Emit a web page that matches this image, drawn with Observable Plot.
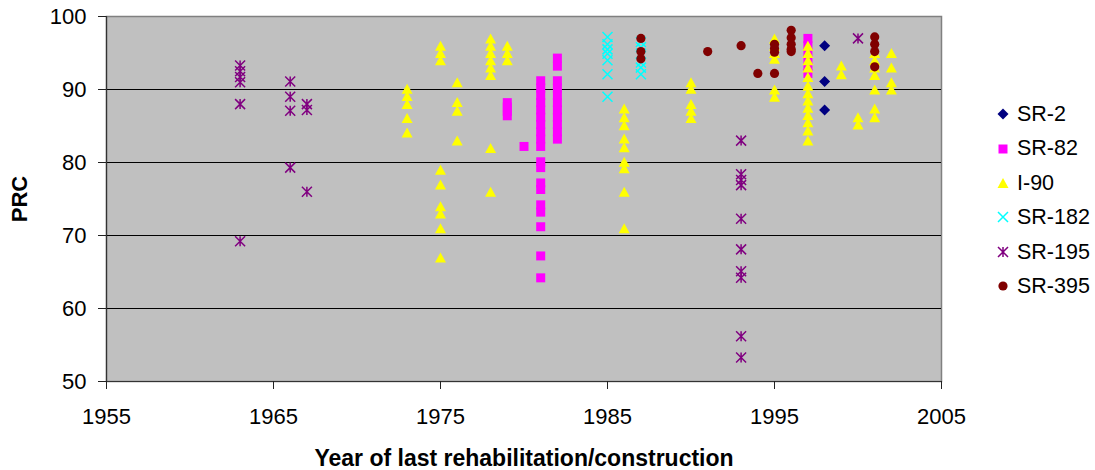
<!DOCTYPE html>
<html><head><meta charset="utf-8">
<script src="https://cdn.jsdelivr.net/npm/d3@7"></script>
<script src="https://cdn.jsdelivr.net/npm/@observablehq/plot@0.6"></script>
<style>
html,body{margin:0;padding:0;background:#fff;}
#wrap{position:relative;width:1095px;height:470px;font-family:"Liberation Sans",Arial,sans-serif;}
.item{position:absolute;display:flex;align-items:center;font-size:21.5px;white-space:nowrap;height:26px;}
.item span{margin-left:4px;}
</style></head><body><div id="wrap"></div>
<script>
// ---- data (year, PRC) ----
const seriesNames = ["SR-2", "SR-82", "I-90", "SR-182", "SR-195", "SR-395"];
const seriesColors = ["#000080", "#ff00ff", "#ffff00", "#00ffff", "#800080", "#800000"];
const xTicks = [1955, 1965, 1975, 1985, 1995, 2005];
const yTicks = [50, 60, 70, 80, 90, 100];
const gridValues = [60, 70, 80, 90];
const xTitle = "Year of last rehabilitation/construction";
const yTitle = "PRC";

const sr2 = [[1998, 96], [1998, 91.1], [1998, 87.2]];
const sr82 = [
  [1979, 88.2], [1979, 87.6], [1979, 87], [1979, 86.4],
  [1980, 82.2],
  [1981, 91.2], [1981, 90.2], [1981, 89.2], [1981, 88.2], [1981, 87.2], [1981, 86.2], [1981, 85.2],
  [1981, 84.2], [1981, 83.2], [1981, 82.2], [1981, 80.1], [1981, 79.3], [1981, 77.2], [1981, 76.3],
  [1981, 74.2], [1981, 73.2], [1981, 71.2], [1981, 67.2], [1981, 64.2],
  [1982, 94.3], [1982, 93.2], [1982, 91.2], [1982, 90.2], [1982, 89.2], [1982, 88.2], [1982, 87.2],
  [1982, 86.2], [1982, 85.2], [1982, 84.2], [1982, 83.2],
  [1997, 97], [1997, 96], [1997, 95], [1997, 94], [1997, 93], [1997, 92.2]
];
const i90 = [
  [1973, 90.1], [1973, 89.1], [1973, 88], [1973, 86.1], [1973, 84.1],
  [1975, 96], [1975, 95], [1975, 94], [1975, 79], [1975, 77], [1975, 74], [1975, 73], [1975, 71], [1975, 67],
  [1976, 91], [1976, 88.3], [1976, 87.1], [1976, 83],
  [1978, 97], [1978, 96], [1978, 95], [1978, 94], [1978, 93], [1978, 92], [1978, 82], [1978, 76],
  [1979, 96], [1979, 95], [1979, 94],
  [1986, 87.4], [1986, 86.2], [1986, 85.1], [1986, 83.3], [1986, 82.1], [1986, 80.1], [1986, 79.2], [1986, 76], [1986, 71],
  [1990, 91], [1990, 90.1], [1990, 88], [1990, 87.1], [1990, 86.1],
  [1995, 97], [1995, 96], [1995, 95], [1995, 94.2], [1995, 90], [1995, 89],
  [1997, 96], [1997, 95], [1997, 94], [1997, 93], [1997, 91.7], [1997, 90.5], [1997, 89.5], [1997, 88.5],
  [1997, 87.5], [1997, 86.5], [1997, 85.5], [1997, 84.4], [1997, 83],
  [1999, 93.3], [1999, 92.1],
  [2000, 86.2], [2000, 85.2],
  [2001, 95], [2001, 94], [2001, 93], [2001, 92], [2001, 90], [2001, 87.4], [2001, 86.2],
  [2002, 95], [2002, 93], [2002, 91], [2002, 90]
];
const sr182 = [
  [1985, 97.2], [1985, 96.2], [1985, 95.5], [1985, 94.9], [1985, 94], [1985, 92.1], [1985, 89],
  [1987, 96.5], [1987, 95.8], [1987, 94.9], [1987, 93.7], [1987, 93], [1987, 92.1]
];
const sr195 = [
  [1963, 93.3], [1963, 92.5], [1963, 91.7], [1963, 91], [1963, 88], [1963, 69.2],
  [1966, 91.1], [1966, 89], [1966, 87.1], [1966, 79.3],
  [1967, 88], [1967, 87.2], [1967, 76],
  [1993, 83], [1993, 78.4], [1993, 77.6], [1993, 76.9], [1993, 72.3], [1993, 68.1], [1993, 65.1],
  [1993, 64.2], [1993, 56.2], [1993, 53.3],
  [2000, 97]
];
const sr395 = [
  [1987, 97], [1987, 95.2], [1987, 94.2],
  [1991, 95.2], [1993, 96], [1994, 92.2],
  [1995, 96.2], [1995, 95.6], [1995, 95.1], [1995, 92.2],
  [1996, 98.1], [1996, 97.1], [1996, 96.2], [1996, 95.5], [1996, 95.2],
  [2001, 97.2], [2001, 96.2], [2001, 95.2], [2001, 93.1]
];
const seriesData = [sr2, sr82, i90, sr182, sr195, sr395];

// ---- marker shapes (Excel-like) ----
const rad = s => Math.sqrt(s / Math.PI);
const symDiamond = {draw(c, s) { const r = rad(s); c.moveTo(0, -r); c.lineTo(r, 0); c.lineTo(0, r); c.lineTo(-r, 0); c.closePath(); }};
const symSquare = {draw(c, s) { const r = rad(s); c.rect(-r, -r, 2 * r, 2 * r); }};
const symTriangle = {draw(c, s) { const r = rad(s); c.moveTo(0, -r); c.lineTo(r * 1.1, r); c.lineTo(-r * 1.1, r); c.closePath(); }};
const symTimes = {draw(c, s) { const r = rad(s); c.moveTo(-r, -r); c.lineTo(r, r); c.moveTo(-r, r); c.lineTo(r, -r); }};
const symAsterisk = {draw(c, s) { const r = rad(s); c.moveTo(-r, -r); c.lineTo(r, r); c.moveTo(-r, r); c.lineTo(r, -r); c.moveTo(0, -r); c.lineTo(0, r); }};
const symCircle = {draw(c, s) { const r = rad(s); c.moveTo(r, 0); c.arc(0, 0, r, 0, 2 * Math.PI); }};
const seriesSymbols = [symDiamond, symSquare, symTriangle, symTimes, symAsterisk, symCircle];
const seriesR = [5.5, 4.5, 5, 5, 5, 4.6];
const seriesFilled = [true, true, true, false, false, true];

const dotMarks = seriesData.map((data, i) => Plot.dot(data, {
  x: d => d[0], y: d => d[1],
  symbol: seriesSymbols[i], r: seriesR[i],
  fill: seriesFilled[i] ? seriesColors[i] : "none",
  stroke: seriesFilled[i] ? "none" : seriesColors[i],
  strokeWidth: seriesFilled[i] ? 0 : 1.5
}));

const chart = Plot.plot({
  width: 1095, height: 470,
  marginLeft: 106, marginRight: 154, marginTop: 16, marginBottom: 89,
  x: {domain: [1955, 2005]},
  y: {domain: [50, 100]},
  style: {fontFamily: "'Liberation Sans', Arial, sans-serif", fontSize: "22px", color: "black", background: "transparent", overflow: "visible"},
  marks: [
    Plot.frame({fill: "#c0c0c0", stroke: "#808080", strokeWidth: 1.5}),
    Plot.ruleY(gridValues, {stroke: "black", strokeWidth: 1}),
    Plot.ruleY([50], {stroke: "#333", strokeWidth: 1.2}),
    Plot.ruleX([1955], {stroke: "#333", strokeWidth: 1.2}),
    Plot.axisY(yTicks, {tickSize: 8, tickPadding: 12, label: null, tickFormat: d => String(d), stroke: "#222"}),
    Plot.axisX(xTicks, {tickSize: 8, tickPadding: 19, label: null, tickFormat: d => String(d), stroke: "#222"}),
    ...dotMarks,
    Plot.text([yTitle], {text: d => d, frameAnchor: "left", dx: -86.5, rotate: -90, textAnchor: "middle", lineAnchor: "middle", fontWeight: "bold", fontSize: 22}),
    Plot.text([xTitle], {text: d => d, frameAnchor: "bottom", dy: 77, textAnchor: "middle", lineAnchor: "middle", fontWeight: "bold", fontSize: 23})
  ]
});
const wrap = document.getElementById("wrap");
wrap.appendChild(chart);

// ---- legend (right side) ----
const legendY = [114, 148.5, 183, 217, 252, 286];
seriesNames.forEach((name, i) => {
  const item = document.createElement("div");
  item.className = "item";
  item.style.left = "993px";
  item.style.top = (legendY[i] - 13) + "px";
  const p = d3.path();
  seriesSymbols[i].draw(p, seriesR[i] * seriesR[i] * Math.PI);
  const svg = d3.create("svg").attr("width", 20).attr("height", 20).attr("viewBox", "-10 -10 20 20");
  svg.append("path").attr("d", p.toString())
    .attr("fill", seriesFilled[i] ? seriesColors[i] : "none")
    .attr("stroke", seriesFilled[i] ? "none" : seriesColors[i])
    .attr("stroke-width", 1.5);
  item.appendChild(svg.node());
  const span = document.createElement("span");
  span.textContent = name;
  item.appendChild(span);
  wrap.appendChild(item);
});
</script>
</body></html>
